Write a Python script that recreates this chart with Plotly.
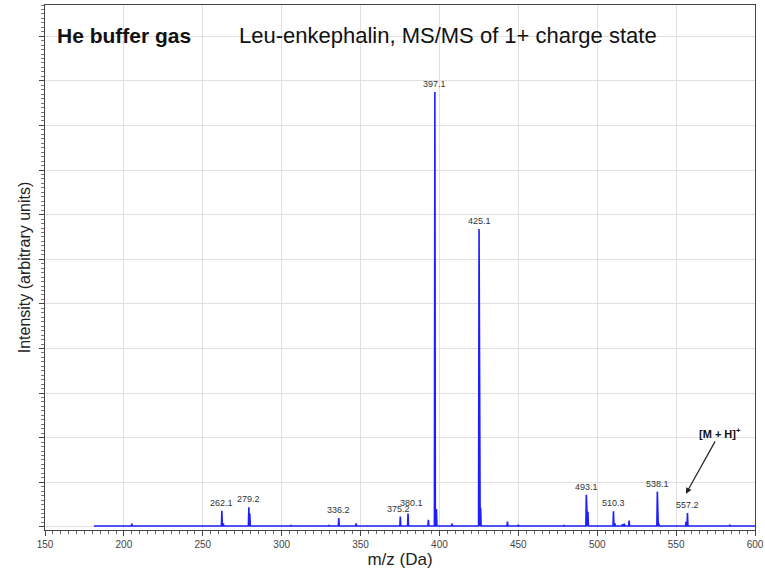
import plotly.graph_objects as go

# Labelled peaks (m/z, relative intensity)
label_mz = [262.1, 279.2, 336.2, 375.2, 380.1, 397.1, 425.1, 493.1, 510.3, 538.1, 557.2]
label_int = [0.36, 0.44, 0.20, 0.23, 0.30, 9.75, 6.68, 0.72, 0.35, 0.79, 0.31]
label_text = ["262.1", "279.2", "336.2", "375.2", "380.1", "397.1", "425.1",
              "493.1", "510.3", "538.1", "557.2"]

# Unlabelled minor peaks / shoulders
minor_mz = [205.0, 218.0, 222.0, 263.0, 279.8, 306.0, 330.0, 347.2, 393.0, 398.1,
            408.0, 426.1, 443.1, 450.0, 479.0, 494.1, 511.2, 516.0, 517.2, 520.2,
            539.0, 556.3, 584.0]
minor_int = [0.07, 0.03, 0.03, 0.08, 0.30, 0.04, 0.04, 0.08, 0.16, 0.40,
             0.07, 0.43, 0.12, 0.05, 0.04, 0.34, 0.08, 0.06, 0.07, 0.14,
             0.08, 0.12, 0.05]

baseline = 0.02
mz_start, mz_end = 181.0, 600.0
half_width = 0.3

peaks = sorted(zip(label_mz + minor_mz, label_int + minor_int))
xs, ys = [mz_start], [baseline]
for m, h in peaks:
    xs += [m - half_width, m, m + half_width]
    ys += [baseline, h, baseline]
xs.append(mz_end)
ys.append(baseline)

fig = go.Figure()
fig.add_trace(go.Scatter(x=xs, y=ys, mode="lines",
                         line=dict(color="rgb(30,30,255)", width=1.6),
                         hoverinfo="skip", showlegend=False))

# Peak labels
xshift = {"375.2": -2, "380.1": 3}
yshift = {"380.1": 3}
for m, h, t in zip(label_mz, label_int, label_text):
    fig.add_annotation(x=m, y=h, text=t, showarrow=False, yanchor="bottom",
                       yshift=1 + yshift.get(t, 0), xshift=xshift.get(t, 0),
                       font=dict(family="Liberation Sans", size=9, color="#333"))

# [M+H]+ arrow
fig.add_annotation(x=556.2, y=0.74, xref="x", yref="y",
                   text="<b>[M + H]<sup>+</sup></b>", showarrow=True,
                   arrowhead=2, arrowsize=1, arrowwidth=1.2, arrowcolor="#222",
                   ax=34, ay=-61,
                   font=dict(family="Liberation Sans", size=11, color="#111"))

# Header texts
fig.add_annotation(x=0.014, y=0.941, xref="paper", yref="paper",
                   text="<b>He buffer gas</b>", showarrow=False,
                   xanchor="left", yanchor="middle",
                   font=dict(family="Liberation Sans", size=21, color="#111"))
fig.add_annotation(x=0.270, y=0.941, xref="paper", yref="paper",
                   text="Leu-enkephalin, MS/MS of 1+ charge state", showarrow=False,
                   xanchor="left", yanchor="middle",
                   font=dict(family="Liberation Sans", size=22, color="#111"))

fig.update_layout(
    width=765, height=573,
    margin=dict(l=45, r=10, t=5, b=43, autoexpand=False),
    paper_bgcolor="white", plot_bgcolor="white",
    xaxis=dict(range=[150, 600], dtick=50, tick0=150,
               showgrid=True, gridcolor="#e0e0e0", gridwidth=1,
               showline=True, linecolor="#444", linewidth=1.2, mirror=True,
               ticks="outside", ticklen=5, tickcolor="#444",
               minor=dict(dtick=5, ticks="outside", ticklen=3, tickcolor="#666", showgrid=False),
               tickfont=dict(family="Liberation Sans", size=10, color="#444"),
               title=dict(text="m/z (Da)", standoff=2,
                          font=dict(family="Liberation Sans", size=17, color="#222")),
               zeroline=False, automargin=False),
    yaxis=dict(range=[-0.07, 11.7], dtick=1, tick0=0,
               showgrid=True, gridcolor="#e0e0e0", gridwidth=1,
               showline=True, linecolor="#444", linewidth=1.2, mirror=True,
               ticks="outside", ticklen=5, tickcolor="#444",
               minor=dict(dtick=0.1, ticks="outside", ticklen=3, tickcolor="#777", showgrid=False),
               showticklabels=False,
               title=dict(text="Intensity (arbitrary units)", standoff=4,
                          font=dict(family="Liberation Sans", size=16, color="#222")),
               zeroline=False, automargin=False),
)

fig.write_html("out.html", config={"displayModeBar": False},
               post_script="document.body.style.margin='0';")
